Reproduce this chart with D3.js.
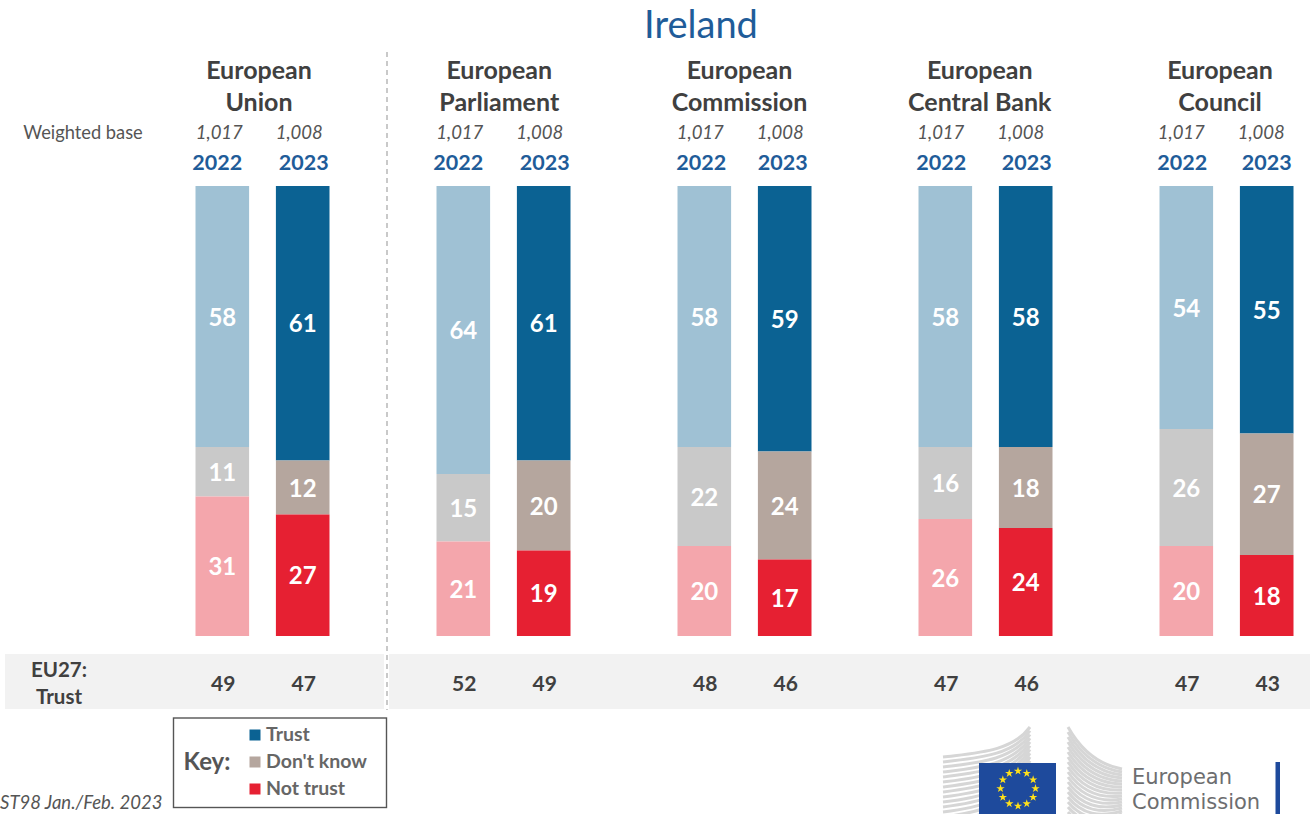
<!DOCTYPE html>
<html><head><meta charset="utf-8">
<script src="https://cdn.jsdelivr.net/npm/d3@7"></script>
<style>html,body{margin:0;padding:0;background:#fff;overflow:hidden}text{font-family:Lato,"Open Sans",sans-serif}</style>
</head><body><svg id="c" width="1310" height="814"></svg>
<script>
const institutions = [["European","Union"],["European","Parliament"],["European","Commission"],["European","Central Bank"],["European","Council"]];
const years = ["2022","2023"];
const weightedBase = ["1,017","1,008"];
const trust =    [[58,61],[64,61],[58,59],[58,58],[54,55]];
const dontKnow = [[11,12],[15,20],[22,24],[16,18],[26,27]];
const notTrust = [[31,27],[21,19],[20,17],[26,24],[20,18]];
const eu27Trust = [[49,47],[52,49],[48,46],[47,46],[47,43]];
const segments = ["Trust","Don't know","Not trust"];
const palette = {
  "2022": {"Trust":"#9fc1d4","Don't know":"#c9c9c9","Not trust":"#f4a6ac"},
  "2023": {"Trust":"#0b6293","Don't know":"#b5a69e","Not trust":"#e62032"}
};
const svg = d3.select("#c");
const grey="#404040", blue="#1f5c99";
const x0 = d3.scaleBand().domain(d3.range(5)).range([195.5,195.5+5*241]);
const x1 = d3.scaleBand().domain(years).range([0,134]).paddingInner(1/3);
const y = d3.scaleLinear().domain([0,100]).range([636,186]);
const text=(s,x,y,size,o={})=>svg.append("text").attr("x",x).attr("y",y).attr("font-size",size)
  .attr("text-anchor",o.anchor||"middle").attr("font-weight",o.bold?700:400).attr("font-style",o.italic?"italic":"normal")
  .attr("fill",o.fill||grey).text(s);

text("Ireland",701,38,38,{fill:blue});

// EU27 band
svg.append("rect").attr("x",5).attr("y",654).attr("width",379).attr("height",55).attr("fill","#f2f2f2");
svg.append("rect").attr("x",389).attr("y",654).attr("width",921).attr("height",55).attr("fill","#f2f2f2");
text("EU27:",59,677,20.5,{bold:true});
text("Trust",59,704,20.5,{bold:true});

// divider
svg.append("line").attr("x1",387).attr("x2",387).attr("y1",52).attr("y2",710)
  .attr("stroke","#a6a6a6").attr("stroke-width",1.2).attr("stroke-dasharray","5 4");

text("Weighted base",83,139,18.3,{fill:"#555"});

const yearNudge = [[-5,1],[-5,1],[-3,-2],[-4,1],[-4,0]];
institutions.forEach((lines,g)=>{
  const cx = x0(g)+63.5-g*0.75;
  text(lines[0],cx,79,25,{bold:true});
  text(lines[1],cx,111,25,{bold:true});
  years.forEach((yr,i)=>{
    const bx = x0(g)+x1(yr), w = x1.bandwidth(), mid=bx+w/2;
    text(weightedBase[i],mid-3-i*0.5-g*0.5,139,18.5,{italic:true,fill:"#555"});
    text(yr,mid+yearNudge[g][i],170,21.5,{bold:true,fill:blue});
    const vals = [trust[g][i],dontKnow[g][i],notTrust[g][i]];
    let top=100;
    vals.forEach((v,s)=>{
      const y0=y(top), y1=y(top-v);
      svg.append("rect").attr("x",bx).attr("y",y0).attr("width",w).attr("height",y1-y0)
        .attr("fill",palette[yr][segments[s]]);
      text(v,mid,(y0+y1)/2+9,24,{bold:true,fill:"#fff"});
      top-=v;
    });
    text(eu27Trust[g][i],mid+1,691,21,{bold:true});
  });
});

// key
svg.append("rect").attr("x",173.5).attr("y",718).attr("width",213).attr("height",89.5).attr("fill","#fff").attr("stroke","#555").attr("stroke-width",1.4);
text("Key:",207,770,24,{bold:true,fill:"#555"});
segments.forEach((s,i)=>{
  const yy=[735,762,789][i];
  svg.append("rect").attr("x",249.5).attr("y",yy-5.5).attr("width",11).attr("height",11).attr("fill",palette["2023"][s]);
  text(s,266,yy+6,19.5,{anchor:"start",bold:true,fill:"#666"});
});
text("ST98 Jan./Feb. 2023",0,809,18.5,{anchor:"start",italic:true,fill:"#555"});

// logo
const logo=svg.append("g");
const stripe="#d6d6d6";
d3.range(14).forEach(i=>{
  const d=i*5;
  logo.append("path").attr("fill","none").attr("stroke",stripe).attr("stroke-width",3)
    .attr("d",`M943,${757+d} C975,${753+d} 1012,${752+d*0.9} 1030,${727+d*0.75}`);
});
d3.range(18).forEach(i=>{
  const d=i*5;
  logo.append("path").attr("fill","none").attr("stroke",stripe).attr("stroke-width",3)
    .attr("d",`M1068,${727+d} C1082,${752+d*0.9} 1100,${765+d*0.75} 1122,${769+d*0.6}`);
});
logo.append("rect").attr("x",979).attr("y",763).attr("width",77).attr("height",51).attr("fill","#1e4a9c");
d3.range(12).forEach(i=>{
  const a=i*Math.PI/6;
  logo.append("path").attr("d",d3.symbol(d3.symbolStar,22)())
    .attr("transform",`translate(${1018+17.5*Math.sin(a)},${788.5-17.5*Math.cos(a)})`).attr("fill","#ffe11a");
});
text("European",1132,784,21,{anchor:"start",fill:"#6d6e70"}).style("font-family","'DejaVu Sans'");
text("Commission",1132,809,21,{anchor:"start",fill:"#6d6e70"}).style("font-family","'DejaVu Sans'");
logo.append("rect").attr("x",1275.5).attr("y",762).attr("width",4.5).attr("height",52).attr("fill","#1e4a9c");
</script></body></html>
